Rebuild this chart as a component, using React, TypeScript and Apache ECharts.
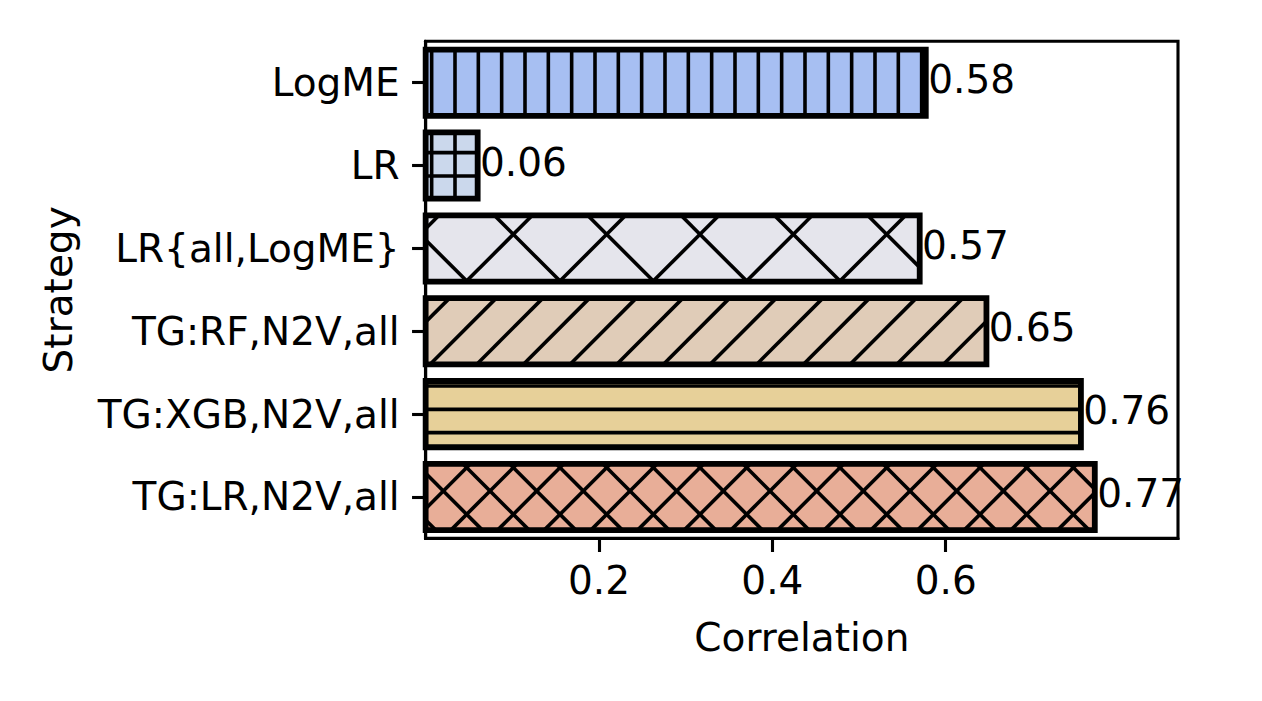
import React, { useEffect, useRef } from 'react';
import * as echarts from 'echarts';

// ---- data ----
const categories = ['LogME', 'LR', 'LR{all,LogME}', 'TG:RF,N2V,all', 'TG:XGB,N2V,all', 'TG:LR,N2V,all'];
const correlations = [0.577, 0.060, 0.570, 0.647, 0.756, 0.772];
const xTicks = [0.2, 0.4, 0.6];
const xMin = 0;
const xMax = 0.868;

// ---- styles ----
const fillColors = ['#a7bff2', '#cbd8ec', '#e5e5ec', '#e0ccb8', '#e7d099', '#e8ae98'];
type Hatch = { kind: 'v' | 'h' | 'ne' | 'se'; step: number; phase: number };
const S1 = 23.333;
const S2 = 46.667;
const S4 = 93.333;
const hatches: Hatch[][] = [
  [{ kind: 'v', step: S1, phase: 11.667 }],
  [{ kind: 'v', step: S1, phase: 11.667 }, { kind: 'h', step: S1, phase: 12.667 }],
  [{ kind: 'ne', step: S4, phase: 1 }, { kind: 'se', step: S4, phase: -1 }],
  [{ kind: 'ne', step: S2, phase: 1 }],
  [{ kind: 'h', step: S1, phase: 12.667 }],
  [{ kind: 'ne', step: S2, phase: 1 }, { kind: 'se', step: S2, phase: -1 }],
];
const FONT = 'DejaVu Sans';
const FS = 39;

function clipLine(px: number, py: number, dx: number, dy: number, x0: number, y0: number, x1: number, y1: number) {
  let tmin = -Infinity;
  let tmax = Infinity;
  const axes: [number, number, number, number][] = [
    [px, dx, x0, x1],
    [py, dy, y0, y1],
  ];
  for (const [p, d, lo, hi] of axes) {
    if (d === 0) {
      if (p < lo || p > hi) return null;
    } else {
      const t1 = (lo - p) / d;
      const t2 = (hi - p) / d;
      tmin = Math.max(tmin, Math.min(t1, t2));
      tmax = Math.min(tmax, Math.max(t1, t2));
    }
  }
  if (!(tmin < tmax)) return null;
  return { x1: px + dx * tmin, y1: py + dy * tmin, x2: px + dx * tmax, y2: py + dy * tmax };
}

function hatchLines(h: Hatch, x0: number, y0: number, x1: number, y1: number) {
  const out: any[] = [];
  let lo = 0, hi = 0;
  if (h.kind === 'v') { lo = x0; hi = x1; }
  else if (h.kind === 'h') { lo = y0; hi = y1; }
  else if (h.kind === 'ne') { lo = x0 + y0; hi = x1 + y1; }
  else { lo = x0 - y1; hi = x1 - y0; }
  const kStart = Math.ceil((lo - h.phase) / h.step);
  for (let k = kStart; h.phase + k * h.step <= hi; k++) {
    const c = h.phase + k * h.step;
    let seg = null;
    if (h.kind === 'v') seg = clipLine(c, 0, 0, 1, x0, y0, x1, y1);
    else if (h.kind === 'h') seg = clipLine(0, c, 1, 0, x0, y0, x1, y1);
    else if (h.kind === 'ne') seg = clipLine(c, 0, 1, -1, x0, y0, x1, y1);
    else seg = clipLine(c, 0, 1, 1, x0, y0, x1, y1);
    if (seg) out.push(seg);
  }
  return out;
}

export default function App() {
  const ref = useRef<HTMLDivElement>(null);
  useEffect(() => {
    if (!ref.current) return;
    const chart = echarts.init(ref.current, undefined, { renderer: 'svg' });
    const option: any = {
      animation: false,
      backgroundColor: '#ffffff',
      textStyle: { fontFamily: FONT },
      grid: {
        left: 425.65,
        right: 84,
        top: 41.3,
        bottom: 162.6,
        show: true,
        borderColor: '#000',
        borderWidth: 3.1,
        backgroundColor: 'transparent',
      },
      xAxis: {
        type: 'value',
        min: xMin,
        max: xMax,
        interval: 0.2,
        name: 'Correlation',
        nameLocation: 'middle',
        nameGap: 80,
        nameTextStyle: { fontSize: FS, color: '#000', fontFamily: FONT },
        splitLine: { show: false },
        axisLine: { show: true, lineStyle: { color: '#000', width: 3.1 } },
        axisTick: { show: true, length: 13.6, customValues: xTicks, lineStyle: { color: '#000', width: 3.1 } },
        axisLabel: { customValues: xTicks, margin: 23, fontSize: FS, color: '#000', fontFamily: FONT },
      },
      yAxis: {
        type: 'category',
        data: categories,
        inverse: true,
        name: 'Strategy',
        nameLocation: 'middle',
        nameGap: 348,
        nameTextStyle: { fontSize: FS, color: '#000', fontFamily: FONT },
        axisLine: { show: true, lineStyle: { color: '#000', width: 3.1 } },
        axisTick: { show: true, alignWithLabel: true, length: 13.6, lineStyle: { color: '#000', width: 3.1 } },
        axisLabel: { margin: 26, fontSize: FS, color: '#000', fontFamily: FONT, padding: [6, 0, 0, 0] },
        splitLine: { show: false },
      },
      series: [
        {
          type: 'custom',
          clip: false,
          encode: { x: 0, y: 1 },
          data: correlations.map((v, i) => [v, i]),
          renderItem: (params: any, api: any) => {
            const i = params.dataIndex;
            const val = api.value(0);
            const idx = api.value(1);
            const start = api.coord([0, idx]);
            const end = api.coord([val, idx]);
            const band = api.size([0, 1])[1];
            const h = band * 0.8;
            const x0 = start[0];
            const x1 = end[0];
            const y0 = start[1] - h / 2;
            const y1 = start[1] + h / 2;
            const children: any[] = [];
            children.push({
              type: 'rect',
              shape: { x: x0, y: y0, width: x1 - x0, height: y1 - y0 },
              style: { fill: fillColors[i], stroke: 'none' },
            });
            for (const hs of hatches[i]) {
              for (const seg of hatchLines(hs, x0, y0, x1, y1)) {
                children.push({
                  type: 'line',
                  shape: seg,
                  style: { stroke: '#000', lineWidth: 3.6 },
                });
              }
            }
            children.push({
              type: 'rect',
              shape: { x: x0, y: y0, width: x1 - x0, height: y1 - y0 },
              style: { fill: 'none', stroke: '#000', lineWidth: 5.8 },
            });
            children.push({
              type: 'text',
              style: {
                text: correlations[i].toFixed(2),
                x: x1 + 2.4,
                y: start[1] - 3.3,
                align: 'left',
                verticalAlign: 'middle',
                textAlign: 'left',
                textVerticalAlign: 'middle',
                fontSize: FS,
                fontFamily: FONT,
                fill: '#000',
              },
            });
            return { type: 'group', children };
          },
        },
      ],
    };
    chart.setOption(option);
    return () => chart.dispose();
  }, []);
  return <div ref={ref} style={{ position: 'absolute', left: 0, top: 0, width: 1262, height: 701 }} />;
}
